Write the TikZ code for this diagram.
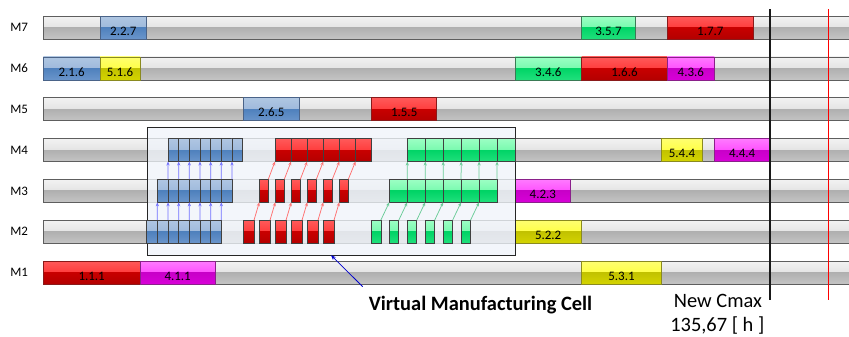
\documentclass[tikz,border=0pt]{standalone}
\usepackage{fontspec}
\setmainfont{Carlito}
\usetikzlibrary{arrows.meta}
\definecolor{barline}{HTML}{5E5E5E}
\definecolor{gA}{HTML}{F2F2F2}\definecolor{gB}{HTML}{D6D6D6}\definecolor{gC}{HTML}{B0B0B0}\definecolor{gD}{HTML}{C4C4C4}
\definecolor{bA}{HTML}{AFC6E2}\definecolor{bB}{HTML}{8FAED6}\definecolor{bC}{HTML}{4F81BD}\definecolor{bD}{HTML}{6A95CB}\definecolor{bL}{HTML}{4A6388}
\definecolor{rA}{HTML}{FF5A5A}\definecolor{rB}{HTML}{FF2020}\definecolor{rC}{HTML}{C80000}\definecolor{rD}{HTML}{B40000}\definecolor{rL}{HTML}{8A1A1A}
\definecolor{nA}{HTML}{9CFFC4}\definecolor{nB}{HTML}{55F59A}\definecolor{nC}{HTML}{00D466}\definecolor{nD}{HTML}{20E07C}\definecolor{nL}{HTML}{3A7A55}
\definecolor{yA}{HTML}{FFFF70}\definecolor{yB}{HTML}{FFFF20}\definecolor{yC}{HTML}{C2C200}\definecolor{yD}{HTML}{D4D400}\definecolor{yL}{HTML}{8A8A20}
\definecolor{mA}{HTML}{FF7AFF}\definecolor{mB}{HTML}{FF2AFF}\definecolor{mC}{HTML}{C800C8}\definecolor{mD}{HTML}{D800D8}\definecolor{mL}{HTML}{8A208A}
\definecolor{vmcfill}{HTML}{F0F4FA}
\definecolor{arrB}{HTML}{7070FF}\definecolor{arrR}{HTML}{FF7070}\definecolor{arrG}{HTML}{6ACB98}
\begin{document}
\begin{tikzpicture}[x=1bp,y=-1bp,
  glossy/.style n args={4}{path picture={
    \shade[top color=#1, bottom color=#2] (path picture bounding box.north west) rectangle (path picture bounding box.east);
    \shade[top color=#3, bottom color=#4] (path picture bounding box.west) rectangle (path picture bounding box.south east);}},
  seg/.style={draw, rectangle, inner sep=0pt, outer sep=0pt, anchor=north west, minimum height=23bp,
    text height=15.5bp, text depth=0pt, font=\fontsize{13}{13}\selectfont, line width=0.6bp},
  greybar/.style={seg, draw=barline, glossy={gA}{gB}{gC}{gD}},
  blueseg/.style={seg, draw=bL, glossy={bA}{bB}{bC}{bD}},
  redseg/.style={seg, draw=rL, glossy={rA}{rB}{rC}{rD}},
  greenseg/.style={seg, draw=nL, glossy={nA}{nB}{nC}{nD}},
  yellowseg/.style={seg, draw=yL, glossy={yA}{yB}{yC}{yD}},
  magseg/.style={seg, draw=mL, glossy={mA}{mB}{mC}{mD}},
  small/.style={draw=black!75},
  rowlabel/.style={anchor=base, font=\fontsize{13}{13}\selectfont},
  flow/.style={line width=0.75bp, -{Stealth[length=4bp,width=3.2bp]}},
  bigtext/.style={anchor=base, font=\fontsize{20.5}{20.5}\selectfont}
]
\useasboundingbox (0,0) rectangle (849,336);
% rows
\foreach \r/\t in {7/16,6/56.8,5/97.7,4/138.5,3/179.3,2/220.2,1/261}{
  \node[greybar, minimum width=812bp] (bar\r) at (43.3,\t) {};
  \pgfmathsetmacro\bl{\t+15.7}
  \node[rowlabel] (lab\r) at (19.2,\bl) {M\r};
}
% M7
\node[blueseg, minimum width=46.7bp] (s227) at (100,16) {2.2.7};
\node[greenseg, minimum width=53.6bp] (s357) at (581.7,16) {3.5.7};
\node[redseg, minimum width=86bp] (s177) at (667.3,16) {1.7.7};
% M6
\node[blueseg, minimum width=56.7bp] (s216) at (43.3,56.8) {2.1.6};
\node[yellowseg, minimum width=40bp] (s516) at (100,56.8) {5.1.6};
\node[greenseg, minimum width=66.7bp] (s346) at (515,56.8) {3.4.6};
\node[redseg, minimum width=85.6bp] (s166) at (581.7,56.8) {1.6.6};
\node[magseg, minimum width=47bp] (s436) at (667.3,56.8) {4.3.6};
% M5
\node[blueseg, minimum width=56bp] (s265) at (243.3,97.7) {2.6.5};
\node[redseg, minimum width=65bp] (s155) at (371.7,97.7) {1.5.5};
% M4
\node[yellowseg, minimum width=40.6bp] (s544) at (661.7,138.5) {5.4.4};
\node[magseg, minimum width=55.7bp] (s444) at (714.3,138.5) {4.4.4};
% M3
\node[magseg, minimum width=55.7bp] (s423) at (515,179.3) {4.2.3};
% M2
\node[yellowseg, minimum width=66.3bp] (s522) at (515,220.2) {5.2.2};
% M1
\node[redseg, minimum width=96.7bp] (s111) at (43.3,261) {1.1.1};
\node[magseg, minimum width=75.3bp] (s411) at (140,261) {4.1.1};
\node[yellowseg, minimum width=79.6bp] (s531) at (581.7,261) {5.3.1};
% virtual manufacturing cell
\node[draw=black!85, line width=0.9bp, fill=vmcfill, fill opacity=0.78, anchor=north west,
  minimum width=368.3bp, minimum height=127.7bp, inner sep=0pt] (vmc) at (146.7,127.3) {};
% blue small boxes
\foreach \i in {0,...,6}{
  \pgfmathsetmacro\xa{146.7+10.66*\i}
  \pgfmathsetmacro\xb{157.36+10.66*\i}
  \pgfmathsetmacro\xc{168.0+10.66*\i}
  \node[blueseg, small, minimum width=10.66bp] (b2-\i) at (\xa,220.2) {};
  \node[blueseg, small, minimum width=10.66bp] (b3-\i) at (\xb,179.3) {};
  \node[blueseg, small, minimum width=10.66bp] (b4-\i) at (\xc,138.5) {};
  \draw[flow, arrB] (b2-\i.north east) -- (b3-\i.south west);
  \draw[flow, arrB] (b3-\i.north east) -- (b4-\i.south west);
}
% red small boxes
\foreach \i in {0,...,5}{
  \pgfmathsetmacro\xa{243.3+16*\i}
  \pgfmathsetmacro\xb{259.3+16*\i}
  \pgfmathsetmacro\xc{275+16.1*\i}
  \node[redseg, small, minimum width=10.7bp] (r2-\i) at (\xa,220.2) {};
  \node[redseg, small, minimum width=9bp] (r3-\i) at (\xb,179.3) {};
  \node[redseg, small, minimum width=16.1bp] (r4-\i) at (\xc,138.5) {};
  \draw[flow, arrR] (r2-\i.north east) -- (r3-\i.south west);
  \draw[flow, arrR] (r3-\i.north east) -- (r4-\i.south west);
}
% green small boxes
\foreach \i in {0,...,5}{
  \pgfmathsetmacro\xa{371.7+17.95*\i}
  \pgfmathsetmacro\xb{389.3+17.95*\i}
  \pgfmathsetmacro\xc{407.3+17.95*\i}
  \node[greenseg, small, minimum width=9.1bp] (g2-\i) at (\xa,220.2) {};
  \node[greenseg, small, minimum width=17.95bp] (g3-\i) at (\xb,179.3) {};
  \node[greenseg, small, minimum width=17.95bp] (g4-\i) at (\xc,138.5) {};
  \draw[flow, arrG] (g2-\i.north east) -- (g3-\i.south west);
  \draw[flow, arrG] (g3-\i.north east) -- (g4-\i.south west);
}
% makespan lines
\coordinate (cmaxtop) at (770,9.3);
\coordinate (cmaxbot) at (770,300);
\coordinate (oldtop) at (828.7,9.3);
\coordinate (oldbot) at (828.7,300);
\draw[line width=1.6bp, black!90] (cmaxtop) -- (cmaxbot);
\draw[line width=1.3bp, red] (oldtop) -- (oldbot);
% texts
\node[bigtext, font=\fontsize{20.5}{20.5}\selectfont\bfseries] (vmclabel) at (480.5,310) {Virtual Manufacturing Cell};
\node[bigtext] (newcmax) at (718,307.3) {New Cmax};
\node[bigtext] (cmaxval) at (717.3,331.7) {135,67 [ h ]};
\coordinate (vmctail) at (362.7,286.7);
\coordinate (vmctip) at (331,255.2);
\draw[line width=0.8bp, blue!80!black, -{Stealth[length=5bp,width=4bp]}] (vmctail) -- (vmctip);
\end{tikzpicture}
\end{document}
